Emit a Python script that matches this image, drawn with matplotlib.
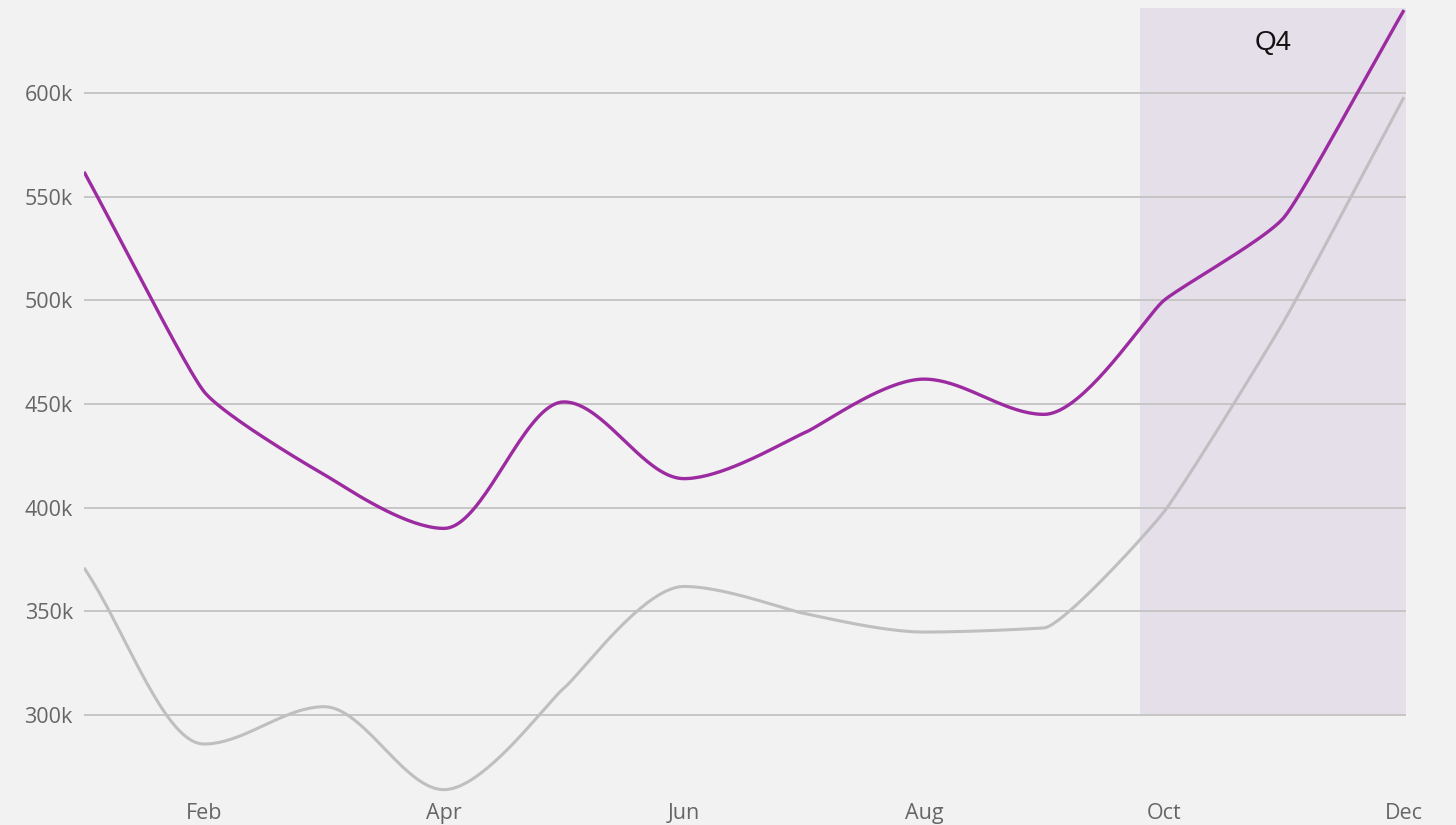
import numpy as np
import matplotlib
matplotlib.use("Agg")
import matplotlib.pyplot as plt

months = ["Jan", "Feb", "Mar", "Apr", "May", "Jun", "Jul", "Aug", "Sep", "Oct", "Nov", "Dec"]
series_current = [562, 456, 416, 390, 451, 414, 436, 462, 445, 500, 540, 640]  # thousands
series_previous = [371, 286, 304, 264, 313, 362, 349, 340, 342, 398, 490, 598]  # thousands
tick_months = ["Feb", "Apr", "Jun", "Aug", "Oct", "Dec"]
y_ticks = [300, 350, 400, 450, 500, 550, 600]
highlight_label = "Q4"
highlight_start = 8.8  # month index where Q4 band starts

BG = "#f2f2f2"
PURPLE = "#9c2aa0"
GRAY = "#c0bec0"
GRID = "#c6c6c6"
SHADE = "#e5dfea"
TXT = "#666666"

plt.rcParams['font.family'] = ['Open Sans', 'DejaVu Sans']


def smooth_path(x, y, n=40, tight=0.15, loose=1 / 3):
    """Monotone cubic path; turning points get long handles, pass-through points short ones."""
    x = np.asarray(x, float); y = np.asarray(y, float)
    m = len(x)
    h = np.diff(x)
    s = np.diff(y) / h
    t = np.zeros(m)
    hl = np.full(m, loose)
    for i in range(1, m - 1):
        s0, s1 = s[i - 1], s[i]
        p = (s0 * h[i] + s1 * h[i - 1]) / (h[i - 1] + h[i])
        t[i] = (np.sign(s0) + np.sign(s1)) * min(abs(s0), abs(s1), 0.5 * abs(p))
        if np.sign(s0) == np.sign(s1):
            hl[i] = tight
    t[0] = s[0]
    t[-1] = s[-1]
    xs, ys = [], []
    for i in range(m - 1):
        u = np.linspace(0, 1, n, endpoint=(i == m - 2))
        x0, x1 = x[i], x[i + 1]
        d = x1 - x0
        a = d * hl[i]
        c = d * hl[i + 1]
        p0 = np.array([x0, y[i]])
        p1 = np.array([x0 + a, y[i] + a * t[i]])
        p2 = np.array([x1 - c, y[i + 1] - c * t[i + 1]])
        p3 = np.array([x1, y[i + 1]])
        b = ((1 - u) ** 3)[:, None] * p0 + (3 * (1 - u) ** 2 * u)[:, None] * p1 \
            + (3 * (1 - u) * u ** 2)[:, None] * p2 + (u ** 3)[:, None] * p3
        xs.extend(b[:, 0]); ys.extend(b[:, 1])
    return np.array(xs), np.array(ys)


W, H = 1456, 825
fig = plt.figure(figsize=(W / 100, H / 100), dpi=100, facecolor=BG)
left, right, top, bottom = 84, 1406, 8, 795
ax = fig.add_axes([left / W, 1 - bottom / H, (right - left) / W, (bottom - top) / H])
ax.set_facecolor(BG)

px_per_month = 120.0
xmax = (right - left) / px_per_month
px_per_k = (715 - 93) / 300.0
ymax = 600 + (93 - top) / px_per_k
ymin = 300 - (bottom - 715) / px_per_k
ax.set_xlim(0, xmax)
ax.set_ylim(ymin, ymax)

xi = np.arange(len(months))
# Q4 band
ax.fill_between([highlight_start, xmax], 300, ymax, color=SHADE, zorder=0, linewidth=0)
ax.text((highlight_start + xmax) / 2, ymax - 35 / px_per_k, highlight_label,
        ha="center", va="center", fontsize=20, color="#111111", zorder=5,
        family=['Liberation Sans', 'DejaVu Sans'])

for yv in y_ticks:
    ax.axhline(yv, color=GRID, linewidth=1.4, zorder=1)

gx, gy = smooth_path(xi, series_previous)
ax.plot(gx, gy, color=GRAY, linewidth=2.2, zorder=3, solid_capstyle="butt")
px, py = smooth_path(xi, series_current)
ax.plot(px, py, color=PURPLE, linewidth=2.4, zorder=4, solid_capstyle="butt")

ax.set_xticks([months.index(m) for m in tick_months])
ax.set_xticklabels(tick_months)
ax.set_yticks(y_ticks)
ax.set_yticklabels([f"{v}k" for v in y_ticks])
ax.tick_params(axis="both", length=0, labelsize=15.5, colors=TXT)
ax.tick_params(axis="x", pad=6)
ax.tick_params(axis="y", pad=8)
for sp in ax.spines.values():
    sp.set_visible(False)

fig.savefig("out.png", dpi=100, facecolor=BG)
